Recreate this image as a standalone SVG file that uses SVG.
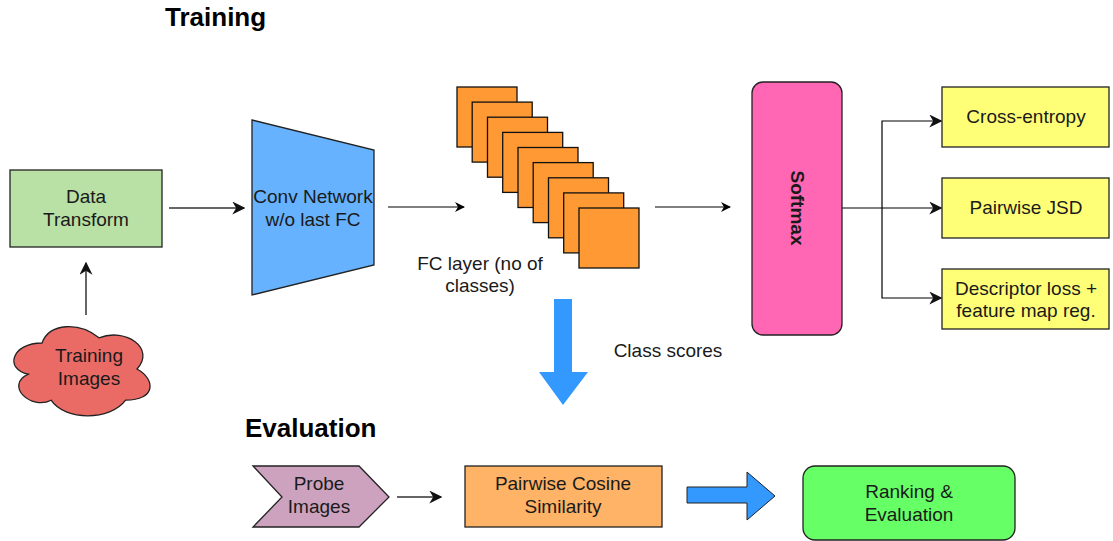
<svg xmlns="http://www.w3.org/2000/svg" width="1113" height="541" viewBox="0 0 1113 541">
  <style>
    .lbl { font-family: "Liberation Sans", Arial, sans-serif; font-size: 19px; fill: #1a1a1a; text-anchor: middle; }
    .title { font-family: "Liberation Sans", Arial, sans-serif; font-size: 26px; font-weight: bold; fill: #000; }
    .box { stroke: #222; stroke-width: 1.3; }
    .edge { fill: none; stroke: #000; stroke-width: 1.2; }
    .edge-grey { fill: none; stroke: #666; stroke-width: 2; }
    .sq { fill: #ff9933; stroke: #111; stroke-width: 1.3; }
    .block-arrow { fill: #3399ff; }
  </style>
  <defs>
    <marker id="head" viewBox="0 0 10 10" refX="9" refY="5" markerWidth="10" markerHeight="10" markerUnits="userSpaceOnUse" orient="auto">
      <path d="M0,0 L10,5 L0,10 L3,5 Z" fill="#000"/>
    </marker>
    <marker id="head-lg" viewBox="0 0 10 10" refX="9" refY="5" markerWidth="13" markerHeight="13" markerUnits="userSpaceOnUse" orient="auto">
      <path d="M0,0 L10,5 L0,10 L3,5 Z" fill="#111"/>
    </marker>
  </defs>

  <rect width="1113" height="541" fill="#fff"/>

  <!-- section titles -->
  <text class="title" x="165" y="26">Training</text>
  <text class="title" x="245" y="437">Evaluation</text>

  <!-- connectors -->
  <g id="connectors">
    <line class="edge-grey" x1="169" y1="208" x2="244" y2="208" marker-end="url(#head-lg)"/>
    <line class="edge-grey" x1="86" y1="315" x2="86" y2="263" marker-end="url(#head-lg)"/>
    <line class="edge" x1="388" y1="207" x2="464" y2="207" marker-end="url(#head)"/>
    <line class="edge" x1="655" y1="207" x2="730" y2="207" marker-end="url(#head)"/>
    <polyline class="edge" points="842,208 941,208" marker-end="url(#head-lg)"/>
    <polyline class="edge" points="882,208 882,121 941,121" marker-end="url(#head-lg)"/>
    <polyline class="edge" points="882,208 882,298 941,298" marker-end="url(#head-lg)"/>
    <line class="edge-grey" x1="397" y1="497" x2="441" y2="497" marker-end="url(#head-lg)"/>
    <!-- block arrows -->
    <polygon class="block-arrow" points="554,299 572,299 572,372 588,372 563,405 539,372 554,372"/>
    <polygon class="block-arrow" points="687,487 747,487 747,472 775,496 747,520 747,503 687,503" stroke="#222" stroke-width="1"/>
  </g>

  <!-- training section -->
  <g id="data-transform">
    <rect class="box" x="10" y="170" width="152" height="77" fill="#b9e0a5"/>
    <text class="lbl" x="86" y="203">Data</text>
    <text class="lbl" x="86" y="226">Transform</text>
  </g>

  <g id="training-images">
    <path class="box" fill="#ea6b66" d="M42,343 C11.6,343 4,369 28.3,374.2 C4,385.6 31.4,410.6 51.1,400.2 C64.8,421 110.4,421 125.6,400.2 C156,400.2 156,379.4 137,369 C156,348.2 125.6,327.4 99,337.8 C80,322.2 49.6,322.2 42,343 Z"/>
    <text class="lbl" x="89" y="362">Training</text>
    <text class="lbl" x="89" y="385">Images</text>
  </g>

  <g id="conv-network">
    <polygon class="box" fill="#66b2ff" points="252,120 374,150 374,265 252,295"/>
    <text class="lbl" x="313" y="203">Conv Network</text>
    <text class="lbl" x="313" y="226">w/o last FC</text>
  </g>

  <g id="fc-layer">
    <rect class="sq" x="457" y="87" width="60" height="60"/>
    <rect class="sq" x="472.2" y="102.1" width="60" height="60"/>
    <rect class="sq" x="487.5" y="117.2" width="60" height="60"/>
    <rect class="sq" x="502.7" y="132.4" width="60" height="60"/>
    <rect class="sq" x="518" y="147.5" width="60" height="60"/>
    <rect class="sq" x="533.2" y="162.6" width="60" height="60"/>
    <rect class="sq" x="548.5" y="177.8" width="60" height="60"/>
    <rect class="sq" x="563.7" y="192.9" width="60" height="60"/>
    <rect class="sq" x="579" y="208" width="60" height="60"/>
    <text class="lbl" x="480" y="270">FC layer (no of</text>
    <text class="lbl" x="480" y="292">classes)</text>
  </g>

  <g id="class-scores">
    <text class="lbl" x="668" y="357">Class scores</text>
  </g>

  <g id="softmax">
    <rect class="box" x="752" y="82" width="90" height="253" rx="11" fill="#ff66b3"/>
    <text class="lbl" x="0" y="0" font-weight="bold" font-size="18" transform="translate(791,208) rotate(90)">Softmax</text>
  </g>

  <g id="cross-entropy">
    <rect class="box" x="942" y="87" width="167" height="60" fill="#ffff77"/>
    <text class="lbl" x="1026" y="123">Cross-entropy</text>
  </g>

  <g id="pairwise-jsd">
    <rect class="box" x="942" y="178" width="167" height="60" fill="#ffff77"/>
    <text class="lbl" x="1026" y="214">Pairwise JSD</text>
  </g>

  <g id="descriptor-loss">
    <rect class="box" x="942" y="269" width="167" height="60" fill="#ffff77"/>
    <text class="lbl" x="1026" y="295">Descriptor loss +</text>
    <text class="lbl" x="1026" y="317">feature map reg.</text>
  </g>

  <!-- evaluation section -->
  <g id="probe-images">
    <polygon class="box" fill="#cda2be" points="253,466 359,466 389,497 359,527 253,527 282,497"/>
    <text class="lbl" x="319" y="490">Probe</text>
    <text class="lbl" x="319" y="513">Images</text>
  </g>

  <g id="cosine-similarity">
    <rect class="box" x="465" y="466" width="197" height="61" fill="#ffb366"/>
    <text class="lbl" x="563" y="490">Pairwise Cosine</text>
    <text class="lbl" x="563" y="513">Similarity</text>
  </g>

  <g id="ranking">
    <rect class="box" x="803" y="466" width="212" height="74" rx="12" fill="#66ff66"/>
    <text class="lbl" x="909" y="498">Ranking &amp;</text>
    <text class="lbl" x="909" y="521">Evaluation</text>
  </g>
</svg>
